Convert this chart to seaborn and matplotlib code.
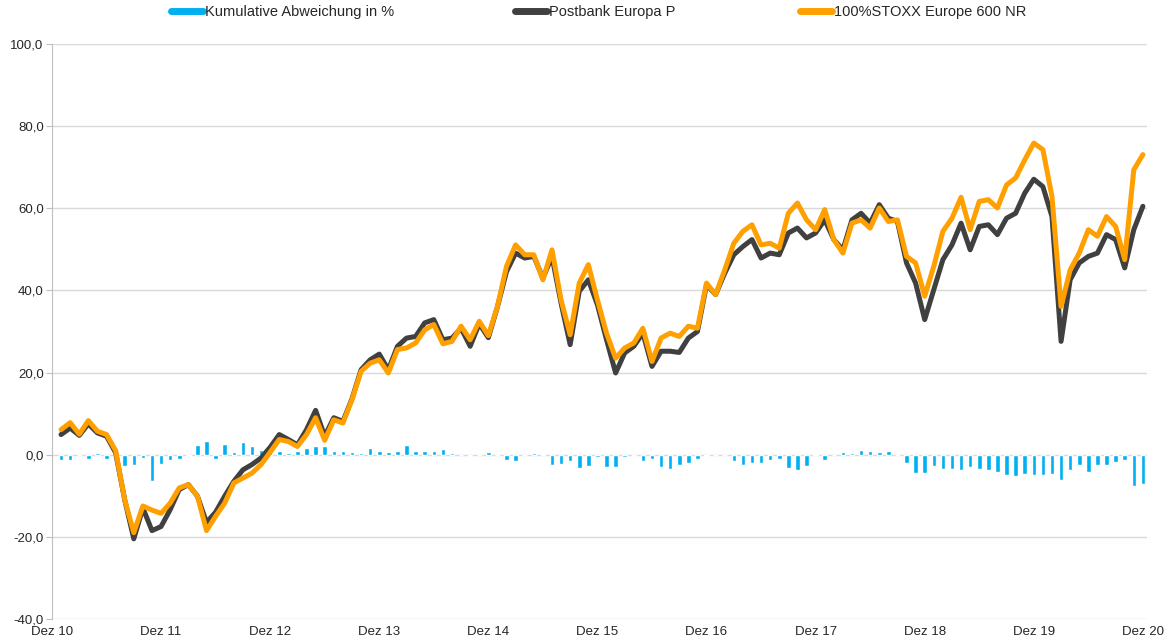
import pandas as pd
import matplotlib
matplotlib.use("Agg")
import matplotlib.pyplot as plt
import seaborn as sns
from matplotlib.lines import Line2D
from matplotlib.ticker import FuncFormatter

# monthly values Jan 11 .. Dez 20 (month 1 .. 120, Dez 10 = 0)
postbank = [4.9, 6.5, 4.7, 7.5, 5.3, 4.5, 0.5, -11, -20.5, -13, -18.5, -17.5,
            -13.4, -8.5, -7.3, -10.1, -16.5, -14, -10.1, -6.5, -3.7, -2.4, -0.8, 1.8,
            4.9, 3.7, 2.4, 6.1, 10.8, 4.5, 9.0, 8.1, 13.6, 20.7, 23.1, 24.5,
            20.7, 26.4, 28.4, 28.8, 32.1, 32.9, 28.0, 28.4, 30.8, 26.4, 31.9, 28.5,
            36.0, 44.6, 49.1, 47.9, 48.3, 43.0, 48.3, 36.9, 26.8, 39.8, 42.6, 36.5,
            28.0, 19.9, 24.8, 26.4, 29.6, 21.5, 25.2, 25.2, 24.9, 28.4, 30.0, 41.4,
            39.0, 44.2, 48.7, 50.7, 52.4, 47.9, 49.1, 48.7, 54.0, 55.2, 52.8, 54.0,
            57.2, 52.4, 49.9, 57.2, 58.8, 56.4, 60.9, 57.6, 56.8, 46.7, 41.8, 32.9,
            40.2, 47.5, 51.1, 56.4, 49.9, 55.6, 56.0, 53.6, 57.6, 58.8, 63.7, 67.1,
            65.3, 58.0, 27.6, 42.6, 46.7, 48.3, 49.1, 53.6, 52.4, 45.5, 54.8, 60.5]

stoxx = [6.1, 7.8, 5.0, 8.3, 5.7, 4.9, 1.0, -11, -19, -12.5, -13.5, -14.3,
         -11.8, -8.1, -7.3, -10.1, -18.5, -15, -11.8, -6.9, -5.7, -4.5, -2.4, 0.6,
         3.7, 3.2, 2.0, 4.9, 9.0, 3.5, 8.5, 7.7, 13.4, 20.3, 22.3, 23.1,
         19.9, 25.6, 26.0, 27.2, 30.4, 31.7, 27.0, 27.6, 31.3, 28.0, 32.5, 29.0,
         36.1, 45.9, 51.1, 48.7, 48.7, 42.6, 49.9, 37.7, 29.2, 41.8, 46.3, 37.7,
         29.6, 23.5, 26.0, 27.2, 30.8, 22.7, 28.4, 29.6, 28.8, 31.3, 30.8, 41.8,
         39.0, 45.0, 51.5, 54.4, 56.0, 51.1, 51.5, 50.3, 58.8, 61.3, 57.2, 54.8,
         59.7, 52.4, 49.1, 56.4, 57.2, 55.2, 60.1, 56.8, 57.2, 48.3, 46.7, 38.6,
         45.9, 54.4, 57.6, 62.7, 54.8, 61.7, 62.1, 60.1, 65.7, 67.4, 71.8, 75.9,
         74.3, 62.9, 36.1, 45.0, 49.1, 54.8, 53.2, 58.0, 55.6, 47.5, 69.4, 73.1]

abweichung = [-1.2, -1.4, 0.0, -1.0, 0.4, -1.0, 0.0, -2.8, -2.6, -0.7, -6.3, -2.3,
              -1.3, -1.0, -0.4, 2.4, 3.4, -1.0, 2.5, 0.6, 3.2, 2.2, 1.2, 1.0,
              0.8, 0.4, 0.8, 1.6, 2.0, 2.0, 0.8, 0.8, 0.6, 0.4, 1.6, 0.8,
              0.6, 1.0, 2.3, 1.0, 1.0, 1.0, 1.4, 0.4, 0.0, -0.3, 0.0, 0.6,
              0.0, -1.4, -1.6, -0.2, 0.3, 0.2, -2.4, -2.2, -1.6, -3.2, -2.8, -0.6,
              -3.0, -3.0, -0.6, -0.4, -1.6, -1.1, -3.0, -3.4, -2.5, -2.0, -1.0, -0.4,
              0.0, 0.0, -1.6, -2.4, -2.0, -2.0, -1.2, -1.0, -3.2, -3.7, -2.7, 0.2,
              -1.2, 0.0, 0.6, 0.4, 1.2, 1.0, 0.6, 1.0, 0.0, -2.0, -4.4, -4.4,
              -2.8, -3.5, -3.5, -3.8, -3.0, -3.5, -3.8, -4.1, -4.9, -5.3, -4.6, -4.9,
              -4.9, -4.6, -6.1, -3.8, -2.4, -4.1, -2.4, -2.4, -1.9, -1.2, -7.7, -7.1]

tick_labels = ["Dez 10", "Dez 11", "Dez 12", "Dez 13", "Dez 14", "Dez 15",
               "Dez 16", "Dez 17", "Dez 18", "Dez 19", "Dez 20"]

df = pd.DataFrame({"monat": range(1, 121), "postbank": postbank,
                   "stoxx": stoxx, "abw": abweichung})

sns.set_style("white")
plt.rcParams["font.family"] = ["Liberation Sans", "DejaVu Sans"]

c_bar = "#00B0F0"
c_dark = "#404040"
c_orange = "#FFA000"

fig = plt.figure(figsize=(11.68, 6.4), dpi=100)
ax = fig.add_axes([0.0445, 0.033, 0.9375, 0.898])

sns.barplot(data=df, x="monat", y="abw", native_scale=True, width=0.5,
            color=c_bar, saturation=1, ax=ax, zorder=2)
sns.lineplot(data=df, x="monat", y="postbank", color=c_dark, linewidth=3.6,
             ax=ax, zorder=3, solid_joinstyle="round", solid_capstyle="round")
sns.lineplot(data=df, x="monat", y="stoxx", color=c_orange, linewidth=3.6,
             ax=ax, zorder=4, solid_joinstyle="round", solid_capstyle="round")

ax.set_xlim(0, 120.45)
ax.set_ylim(-40, 100)
ax.set_yticks(range(-40, 101, 20))
ax.yaxis.set_major_formatter(FuncFormatter(lambda v, p: f"{v:.1f}".replace(".", ",")))
ax.set_xticks(range(0, 121, 12))
ax.set_xticklabels(tick_labels)
ax.set_xlabel("")
ax.set_ylabel("")
ax.grid(axis="y", color="#D9D9D9", linewidth=1)
ax.set_axisbelow(True)
for s in ["top", "right", "bottom"]:
    ax.spines[s].set_visible(False)
ax.spines["left"].set_color("#BFBFBF")
ax.tick_params(axis="y", length=4, color="#BFBFBF", labelsize=9.5, pad=2, left=True)
ax.tick_params(axis="x", length=0, labelsize=9.5, pad=5)

# legend: one entry per block, placed like the original
entries = [(c_bar, "Kumulative Abweichung in %", 0.146),
           (c_dark, "Postbank Europa P", 0.441),
           (c_orange, "100%STOXX Europe 600 NR", 0.685)]
for col, lab, xpos in entries:
    leg = fig.legend([Line2D([], [], color=col, linewidth=5)], [lab],
                     loc="upper left", bbox_to_anchor=(xpos, 0.992),
                     frameon=False, fontsize=10.5, handlelength=2.2,
                     handletextpad=0.15, borderpad=0, borderaxespad=0)

fig.savefig("out.png", dpi=100)
